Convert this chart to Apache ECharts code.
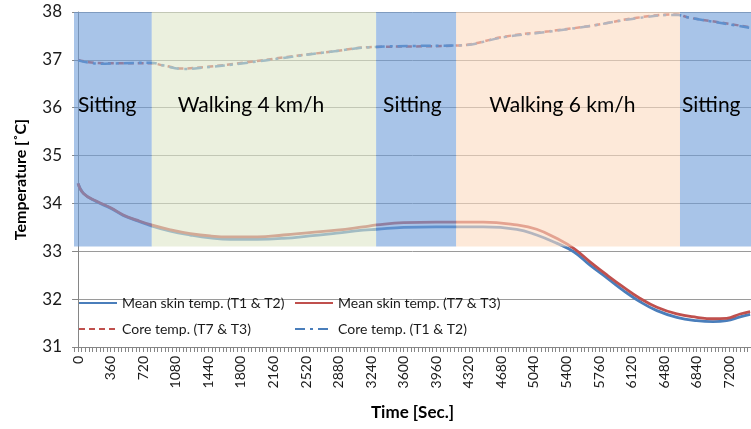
<!doctype html>
<html>
<head>
<meta charset="utf-8" />
<title>Temperature</title>
<script src="https://cdn.jsdelivr.net/npm/echarts@6/dist/echarts.min.js"></script>
<style>
  html, body { margin: 0; padding: 0; background: #fff; }
  #main { width: 751px; height: 429px; }
</style>
</head>
<body>
<div id="main"></div>
<script>
// skin temperature samples (time in seconds)
var skinTime = [0, 60, 200, 360, 500, 650, 810, 1020, 1240, 1460, 1680, 1980, 2270, 2560, 2860, 3150, 3300, 3600, 3960, 4110, 4480, 4850, 5070, 5290, 5480, 5660, 5850, 6030, 6210, 6400, 6620, 6840, 7020, 7170, 7320, 7430];
var skinT1T2 = [34.42, 34.21, 34.04, 33.90, 33.75, 33.64, 33.53, 33.42, 33.34, 33.28, 33.25, 33.25, 33.27, 33.32, 33.38, 33.44, 33.46, 33.50, 33.51, 33.51, 33.51, 33.46, 33.34, 33.17, 32.99, 32.71, 32.44, 32.18, 31.95, 31.76, 31.62, 31.55, 31.53, 31.55, 31.63, 31.68];
var skinT7T3 = [34.42, 34.21, 34.05, 33.91, 33.76, 33.65, 33.55, 33.45, 33.37, 33.32, 33.30, 33.30, 33.34, 33.39, 33.44, 33.51, 33.55, 33.60, 33.61, 33.61, 33.61, 33.55, 33.46, 33.27, 33.06, 32.78, 32.50, 32.25, 32.02, 31.83, 31.69, 31.62, 31.59, 31.60, 31.69, 31.74];

// core temperature samples
var coreTime = [0, 120, 300, 500, 800, 950, 1150, 1400, 1830, 2310, 2790, 3280, 3700, 4200, 4730, 5210, 5700, 6180, 6610, 6760, 7140, 7430];
var coreT7T3 = [37.00, 36.95, 36.93, 36.93, 36.93, 36.88, 36.82, 36.85, 36.94, 37.06, 37.17, 37.27, 37.28, 37.30, 37.49, 37.60, 37.72, 37.88, 37.95, 37.88, 37.77, 37.68];
var coreT1T2 = [36.99, 36.94, 36.92, 36.93, 36.94, 36.88, 36.81, 36.84, 36.93, 37.05, 37.17, 37.27, 37.29, 37.30, 37.48, 37.59, 37.72, 37.87, 37.94, 37.88, 37.76, 37.67];

// activity phases
var phaseNames = ['Sitting', 'Walking 4 km/h', 'Sitting', 'Walking 6 km/h', 'Sitting'];
var phaseStart = [-45, 815, 3295, 4180, 6655];
var phaseEnd = [815, 3295, 4180, 6655, 7440];
var bandBottom = 33.1;
var bandTop = 38;

// axis labels
var timeLabels = [0, 360, 720, 1080, 1440, 1800, 2160, 2520, 2880, 3240, 3600, 3960, 4320, 4680, 5040, 5400, 5760, 6120, 6480, 6840, 7200];

var FONT = 'Lato';
var phaseColor = {
  'Sitting': 'rgba(110,157,217,0.6)',
  'Walking 4 km/h': 'rgba(222,230,200,0.6)',
  'Walking 6 km/h': 'rgba(252,218,192,0.6)'
};
// label indent inside each band (px)
var labelIndent = [4, 26, 7, 33, 2];

function pairs(xs, ys) {
  var out = [];
  for (var i = 0; i < xs.length; i++) out.push([xs[i], ys[i]]);
  return out;
}

var minorTicks = [];
for (var t = -40; t <= 7440; t += 40) minorTicks.push(t);

var areas = [];
for (var i = 0; i < phaseNames.length; i++) {
  areas.push([
    {
      xAxis: phaseStart[i], yAxis: bandBottom,
      itemStyle: { color: phaseColor[phaseNames[i]] },
      label: {
        show: true,
        formatter: phaseNames[i],
        position: [labelIndent[i], 93],
        align: 'left',
        verticalAlign: 'middle',
        color: '#000',
        fontFamily: FONT,
        fontSize: 21
      }
    },
    { xAxis: phaseEnd[i], yAxis: bandTop }
  ]);
}

var blue = '#4a7ebb';
var red = '#c0504d';

var legendBase = {
  top: 294, orient: 'vertical', padding: 0,
  itemWidth: 38, itemHeight: 14, itemGap: 8,
  itemStyle: { opacity: 0 },
  textStyle: { fontFamily: FONT, fontSize: 14, color: '#1a1a1a', lineHeight: 18 }
};

var myChart = echarts.init(document.getElementById('main'));
var option = {
  animation: false,
  backgroundColor: '#fff',
  grid: { left: 74, right: 0, top: 12, bottom: 82 },
  legend: [
    Object.assign({}, legendBase, { left: 78, data: ['Mean skin temp. (T1 & T2)', 'Core temp. (T7 & T3)'] }),
    Object.assign({}, legendBase, { left: 294, data: ['Mean skin temp. (T7 & T3)', 'Core temp. (T1 & T2)'] })
  ],
  xAxis: {
    type: 'value',
    min: -45, max: 7440,
    name: 'Time [Sec.]',
    nameLocation: 'middle',
    nameGap: 57,
    nameTextStyle: { fontFamily: FONT, fontSize: 17, fontWeight: 'bold', color: '#000' },
    axisLine: { show: true, lineStyle: { color: '#868686' } },
    axisTick: { show: true, customValues: minorTicks, length: 5, lineStyle: { color: '#868686' } },
    axisLabel: {
      customValues: timeLabels,
      rotate: 90, margin: 9,
      fontFamily: FONT, fontSize: 14, color: '#1a1a1a',
      formatter: function (v) { return String(v); }
    },
    splitLine: { show: false }
  },
  yAxis: {
    type: 'value',
    min: 31, max: 38, interval: 1,
    name: 'Temperature [\u02DAC]',
    nameLocation: 'middle',
    nameGap: 45,
    nameTextStyle: { fontFamily: FONT, fontSize: 16, fontWeight: 'bold', color: '#000' },
    axisLine: { show: true, lineStyle: { color: '#868686' } },
    axisTick: { show: true, length: 6, lineStyle: { color: '#868686' } },
    axisLabel: { margin: 12, fontFamily: FONT, fontSize: 17, color: '#1a1a1a' },
    splitLine: { show: true, lineStyle: { color: '#9a9a9a', width: 1 } }
  },
  series: [{
    name: 'Mean skin temp. (T1 & T2)',
    type: 'line', smooth: 0.45, symbol: 'none', z: 2,
    lineStyle: { color: blue, width: 2.8 },
    itemStyle: { color: blue },
    data: pairs(skinTime, skinT1T2)
  }, {
    name: 'Mean skin temp. (T7 & T3)',
    type: 'line', smooth: 0.45, symbol: 'none', z: 2,
    lineStyle: { color: red, width: 2.8 },
    itemStyle: { color: red },
    data: pairs(skinTime, skinT7T3)
  }, {
    name: 'Core temp. (T7 & T3)',
    type: 'line', smooth: 0.45, symbol: 'none', z: 2,
    lineStyle: { color: red, width: 2.5, type: [6, 4] },
    itemStyle: { color: red },
    data: pairs(coreTime, coreT7T3)
  }, {
    name: 'Core temp. (T1 & T2)',
    type: 'line', smooth: 0.45, symbol: 'none', z: 2,
    lineStyle: { color: blue, width: 2.5, type: [10, 5, 3, 5] },
    itemStyle: { color: blue },
    data: pairs(coreTime, coreT1T2)
  }, {
    name: 'phases',
    type: 'line', symbol: 'none', z: 5, silent: true,
    lineStyle: { opacity: 0 },
    data: [[0, 35]],
    markArea: { silent: true, z: 5, data: areas }
  }]
};
myChart.setOption(option);
</script>
</body>
</html>
